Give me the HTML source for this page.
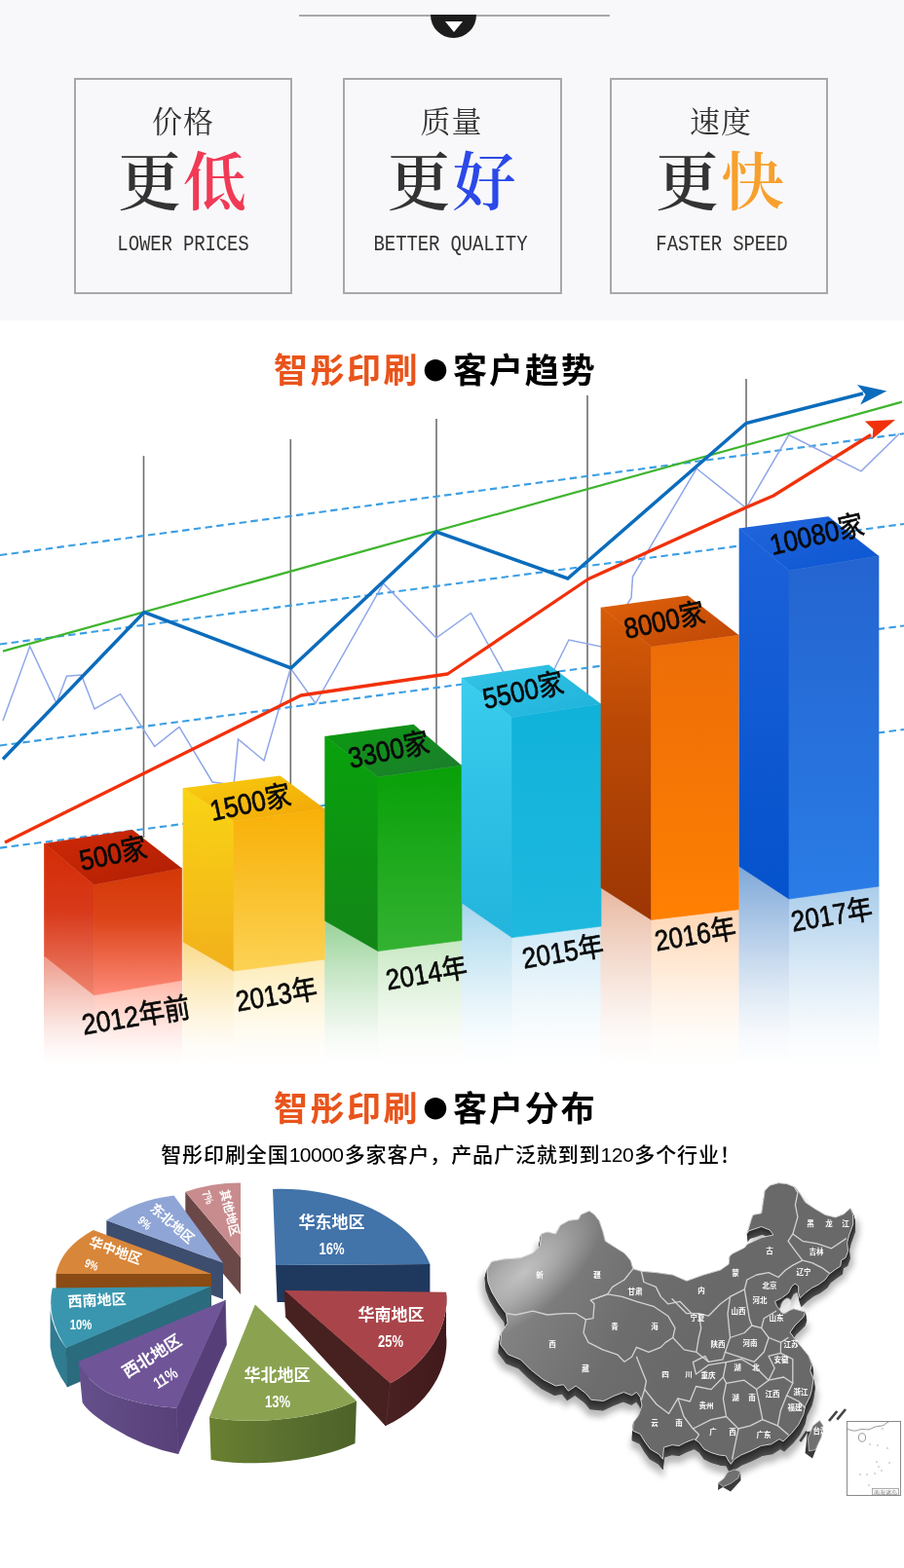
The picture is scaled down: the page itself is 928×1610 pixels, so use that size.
<!DOCTYPE html>
<html lang="zh-CN">
<head>
<meta charset="utf-8">
<title>智彤印刷 - 客户趋势与客户分布</title>
<style>
html,body{margin:0;padding:0;background:#fff;}
body{width:928px;height:1610px;overflow:hidden;position:relative;font-family:"Liberation Sans","Noto Sans CJK SC",sans-serif;}
#page{position:absolute;left:0;top:0;width:928px;height:1610px;overflow:hidden;background:#fff;}
.top{position:absolute;left:0;top:0;width:928px;height:329px;background:#f8f8fa;}
.rule{position:absolute;left:307px;top:14.5px;width:319px;height:2px;background:#a9a9a9;}
.knob{position:absolute;left:442px;top:15px;width:47px;height:24px;background:#1c1c1c;border-radius:0 0 24px 24px;}
.knob i{position:absolute;left:15px;top:7px;width:0;height:0;border-left:9px solid transparent;border-right:9px solid transparent;border-top:11px solid #fff;}
.card{position:absolute;top:80px;width:220px;height:218px;border:2px solid #a8a8a8;box-sizing:content-box;text-align:center;}
.card .s{position:absolute;left:0;right:0;top:24px;font:400 31px/40px "Liberation Serif","Noto Serif CJK SC",serif;color:#333;letter-spacing:1px;}
.card .b{position:absolute;left:0;right:0;top:64px;font:600 65px/84px "Liberation Serif","Noto Serif CJK SC",serif;color:#333;letter-spacing:2px;white-space:nowrap;}
.card .e{position:absolute;left:0;right:0;top:158px;font:400 19px/24px "Liberation Mono",monospace;color:#333;letter-spacing:-0.13px;white-space:nowrap;transform:scaleY(1.15);transform-origin:50% 80%;}
.h2{position:absolute;left:281px;width:400px;text-align:left;font:700 35px/40px "Liberation Sans","Noto Sans CJK SC",sans-serif;letter-spacing:2.5px;color:#000;white-space:nowrap;}
.h2 b{color:#e9541b;font-weight:700;}
.h2 u{text-decoration:none;letter-spacing:1.9px;}
.h2 i{font-style:normal;font-family:"Noto Sans CJK SC","Liberation Sans",sans-serif;font-size:25px;display:inline-block;width:34px;text-align:center;letter-spacing:0;position:relative;top:-3.5px;left:-1px;}
.sub{position:absolute;left:-1px;width:928px;text-align:center;font:500 21px/26px "Liberation Sans","Noto Sans CJK SC",sans-serif;letter-spacing:0.9px;color:#000;white-space:nowrap;}
.sub span{letter-spacing:-0.5px;margin-right:1.2px;}
svg{position:absolute;left:0;top:0;overflow:visible;}
svg text{font-family:"Liberation Sans","Noto Sans CJK SC",sans-serif;}
</style>
</head>
<body>
<div id="page">
<div class="top">
  <div class="rule"></div>
  <div class="knob"><i></i></div>
  <div class="card" style="left:76px"><div class="s">价格</div><div class="b">更<span style="color:#f13a56">低</span></div><div class="e">LOWER PRICES</div></div>
  <div class="card" style="left:352px;width:221px"><div class="s" style="margin-left:-2px">质量</div><div class="b">更<span style="color:#2b49e8">好</span></div><div class="e" style="margin-left:-4px">BETTER QUALITY</div></div>
  <div class="card" style="left:626px"><div class="s" style="margin-left:4px">速度</div><div class="b" style="margin-left:4px">更<span style="color:#f7a02d">快</span></div><div class="e" style="margin-left:6px">FASTER SPEED</div></div>
</div>
<svg id="chart" width="928" height="1610" viewBox="0 0 928 1610">
<defs>
<linearGradient id="tr" x1="0" y1="0" x2="1" y2="1"><stop offset="0" stop-color="#cf2a06"/><stop offset="1" stop-color="#b01e04"/></linearGradient>
<linearGradient id="lr" x1="0" y1="0" x2="0" y2="1"><stop offset="0" stop-color="#d42b06"/><stop offset="0.45" stop-color="#d83a1a"/><stop offset="1" stop-color="#ee8470"/></linearGradient>
<linearGradient id="fr" x1="0" y1="0" x2="0" y2="1"><stop offset="0" stop-color="#d33806"/><stop offset="0.4" stop-color="#dc4418"/><stop offset="1" stop-color="#fd8a78"/></linearGradient>
<linearGradient id="rlr" x1="0" y1="981.5" x2="0" y2="1095" gradientUnits="userSpaceOnUse"><stop offset="0" stop-color="#ee9a8a"/><stop offset="0.3" stop-color="#f4c0b6"/><stop offset="0.6" stop-color="#fae3de"/><stop offset="0.82" stop-color="#fef7f6"/><stop offset="1" stop-color="#ffffff"/></linearGradient>
<linearGradient id="rfr" x1="0" y1="1006.5" x2="0" y2="1095" gradientUnits="userSpaceOnUse"><stop offset="0" stop-color="#ffb8a8"/><stop offset="0.3" stop-color="#ffd3c9"/><stop offset="0.6" stop-color="#ffebe7"/><stop offset="0.82" stop-color="#fff9f8"/><stop offset="1" stop-color="#ffffff"/></linearGradient>
<linearGradient id="ty" x1="0" y1="0" x2="1" y2="1"><stop offset="0" stop-color="#f8cf10"/><stop offset="1" stop-color="#f2a406"/></linearGradient>
<linearGradient id="ly" x1="0" y1="0" x2="0" y2="1"><stop offset="0" stop-color="#f9d414"/><stop offset="1" stop-color="#f2b01c"/></linearGradient>
<linearGradient id="fy" x1="0" y1="0" x2="0" y2="1"><stop offset="0" stop-color="#f8b006"/><stop offset="1" stop-color="#fcd254"/></linearGradient>
<linearGradient id="rly" x1="0" y1="967" x2="0" y2="1095" gradientUnits="userSpaceOnUse"><stop offset="0" stop-color="#fadb8c"/><stop offset="0.3" stop-color="#fce9b8"/><stop offset="0.6" stop-color="#fef5df"/><stop offset="0.82" stop-color="#fffcf6"/><stop offset="1" stop-color="#ffffff"/></linearGradient>
<linearGradient id="rfy" x1="0" y1="985" x2="0" y2="1095" gradientUnits="userSpaceOnUse"><stop offset="0" stop-color="#fdecb8"/><stop offset="0.3" stop-color="#fef3d3"/><stop offset="0.6" stop-color="#fefaeb"/><stop offset="0.82" stop-color="#fffdf9"/><stop offset="1" stop-color="#ffffff"/></linearGradient>
<linearGradient id="tg" x1="0" y1="0" x2="1" y2="1"><stop offset="0" stop-color="#0a9c0e"/><stop offset="1" stop-color="#1d7a30"/></linearGradient>
<linearGradient id="lg" x1="0" y1="0" x2="0" y2="1"><stop offset="0" stop-color="#08a20c"/><stop offset="1" stop-color="#138518"/></linearGradient>
<linearGradient id="fg" x1="0" y1="0" x2="0" y2="1"><stop offset="0" stop-color="#08a008"/><stop offset="1" stop-color="#34b232"/></linearGradient>
<linearGradient id="rlg" x1="0" y1="945.4" x2="0" y2="1095" gradientUnits="userSpaceOnUse"><stop offset="0" stop-color="#98d298"/><stop offset="0.3" stop-color="#bfe3bf"/><stop offset="0.6" stop-color="#e2f2e2"/><stop offset="0.82" stop-color="#f7fbf7"/><stop offset="1" stop-color="#ffffff"/></linearGradient>
<linearGradient id="rfg" x1="0" y1="965.5" x2="0" y2="1095" gradientUnits="userSpaceOnUse"><stop offset="0" stop-color="#c8e8c4"/><stop offset="0.3" stop-color="#ddf1da"/><stop offset="0.6" stop-color="#f0f9ee"/><stop offset="0.82" stop-color="#fbfdfa"/><stop offset="1" stop-color="#ffffff"/></linearGradient>
<linearGradient id="tc" x1="0" y1="0" x2="1" y2="1"><stop offset="0" stop-color="#34c4e6"/><stop offset="1" stop-color="#1fb2da"/></linearGradient>
<linearGradient id="lc" x1="0" y1="0" x2="0" y2="1"><stop offset="0" stop-color="#3acdee"/><stop offset="1" stop-color="#22b4dc"/></linearGradient>
<linearGradient id="fc" x1="0" y1="0" x2="0" y2="1"><stop offset="0" stop-color="#10b2da"/><stop offset="1" stop-color="#1fb8de"/></linearGradient>
<linearGradient id="rlc" x1="0" y1="927" x2="0" y2="1095" gradientUnits="userSpaceOnUse"><stop offset="0" stop-color="#a6d6ee"/><stop offset="0.3" stop-color="#c8e6f4"/><stop offset="0.6" stop-color="#e6f4fa"/><stop offset="0.82" stop-color="#f8fcfe"/><stop offset="1" stop-color="#ffffff"/></linearGradient>
<linearGradient id="rfc" x1="0" y1="951" x2="0" y2="1095" gradientUnits="userSpaceOnUse"><stop offset="0" stop-color="#cfe9f6"/><stop offset="0.3" stop-color="#e1f1f9"/><stop offset="0.6" stop-color="#f2f9fc"/><stop offset="0.82" stop-color="#fbfdfe"/><stop offset="1" stop-color="#ffffff"/></linearGradient>
<linearGradient id="to" x1="0" y1="0" x2="1" y2="1"><stop offset="0" stop-color="#e0620a"/><stop offset="1" stop-color="#bd4606"/></linearGradient>
<linearGradient id="lo" x1="0" y1="0" x2="0" y2="1"><stop offset="0" stop-color="#d85c08"/><stop offset="0.35" stop-color="#bc4a06"/><stop offset="1" stop-color="#9c3604"/></linearGradient>
<linearGradient id="fo" x1="0" y1="0" x2="0" y2="1"><stop offset="0" stop-color="#ec6c08"/><stop offset="1" stop-color="#ff8002"/></linearGradient>
<linearGradient id="rlo" x1="0" y1="911.5" x2="0" y2="1095" gradientUnits="userSpaceOnUse"><stop offset="0" stop-color="#e8b8a0"/><stop offset="0.3" stop-color="#f1d3c4"/><stop offset="0.6" stop-color="#f9ebe4"/><stop offset="0.82" stop-color="#fdf9f7"/><stop offset="1" stop-color="#ffffff"/></linearGradient>
<linearGradient id="rfo" x1="0" y1="933.8" x2="0" y2="1095" gradientUnits="userSpaceOnUse"><stop offset="0" stop-color="#ffd6b4"/><stop offset="0.3" stop-color="#ffe6d0"/><stop offset="0.6" stop-color="#fff4ea"/><stop offset="0.82" stop-color="#fffcf9"/><stop offset="1" stop-color="#ffffff"/></linearGradient>
<linearGradient id="tb" x1="0" y1="0" x2="1" y2="1"><stop offset="0" stop-color="#2466dc"/><stop offset="1" stop-color="#0a56d2"/></linearGradient>
<linearGradient id="lb" x1="0" y1="0" x2="0" y2="1"><stop offset="0" stop-color="#1c62da"/><stop offset="1" stop-color="#0452cc"/></linearGradient>
<linearGradient id="fb" x1="0" y1="0" x2="0" y2="1"><stop offset="0" stop-color="#2464d0"/><stop offset="1" stop-color="#2a7ce6"/></linearGradient>
<linearGradient id="rlb" x1="0" y1="889.6" x2="0" y2="1095" gradientUnits="userSpaceOnUse"><stop offset="0" stop-color="#7ea8d8"/><stop offset="0.3" stop-color="#afc9e7"/><stop offset="0.6" stop-color="#dbe7f4"/><stop offset="0.82" stop-color="#f5f8fc"/><stop offset="1" stop-color="#ffffff"/></linearGradient>
<linearGradient id="rfb" x1="0" y1="910" x2="0" y2="1095" gradientUnits="userSpaceOnUse"><stop offset="0" stop-color="#aacdea"/><stop offset="0.3" stop-color="#cae0f2"/><stop offset="0.6" stop-color="#e7f1f9"/><stop offset="0.82" stop-color="#f8fbfd"/><stop offset="1" stop-color="#ffffff"/></linearGradient>
</defs>
<g stroke="#6e6e6e" stroke-width="1.6" fill="none">
<line x1="147.5" y1="468" x2="147.5" y2="860"/>
<line x1="298.3" y1="451" x2="298.3" y2="810"/>
<line x1="448" y1="430" x2="448" y2="770"/>
<line x1="603" y1="406" x2="603" y2="715"/>
<line x1="766" y1="389" x2="766" y2="545"/>
</g>
<g stroke="#3b9ee3" stroke-width="2.1" stroke-dasharray="7.4 4.4" fill="none">
<line x1="0" y1="570" x2="928" y2="445.2"/>
<line x1="0" y1="661.5" x2="928" y2="538"/>
<line x1="0" y1="765.5" x2="928" y2="642.5"/>
<line x1="0" y1="870.6" x2="928" y2="749"/>
</g>
<polyline fill="none" stroke="#8fa6e8" stroke-width="1.5" stroke-linejoin="miter" points="3,740 30.7,663.6 58,722 68.5,694.3 83.5,693 97,728 123.6,712.7 158.7,766.5 184,746.4 218,803 240,806 244.5,759 271,781 298.3,686.3 324,722.2 393.6,599 447.8,655 483.4,629.5 525,705 545,730 569.5,686 584,657 617,664 648,614 649.5,592 715,481 766,521.7 809.7,446.5 884,483.8 923.5,445"/>
<line x1="3" y1="668.6" x2="926" y2="412.6" stroke="#3fb52f" stroke-width="2.2"/>
<polyline fill="none" stroke="#0b6cbc" stroke-width="3.5" stroke-linejoin="miter" points="3,779.5 148,628.5 298.7,686 448,546 582.8,594 766,434.5 886,404"/>
<polygon fill="#0b6cbc" points="880,395 910.3,401.6 883.2,415.4 888.5,405"/>
<polyline fill="none" stroke="#f1310b" stroke-width="3.3" stroke-linejoin="round" points="5,865 309,714 459.5,692 604,594.5 766,521 794,509 894,446.5"/>
<polygon fill="#f1310b" points="887.8,432.4 919,431 895.6,450.8 896.3,440.5"/>
<polygon fill="url(#rlr)" points="45.0,980.5 97.0,1020.8 97.0,1095 45.0,1095"/>
<polygon fill="url(#rfr)" points="96.5,1020.8 187.2,1005.5 187.2,1095 96.5,1095"/>
<polygon fill="url(#rly)" points="187.5,966 240.5,996 240.5,1095 187.5,1095"/>
<polygon fill="url(#rfy)" points="240,996 333.8,984 333.8,1095 240,1095"/>
<polygon fill="url(#rlg)" points="333.2,944.4 388.5,975.5 388.5,1095 333.2,1095"/>
<polygon fill="url(#rfg)" points="388,975.5 474.5,964.5 474.5,1095 388,1095"/>
<polygon fill="url(#rlc)" points="473.5,926 526.0,961.6 526.0,1095 473.5,1095"/>
<polygon fill="url(#rfc)" points="525.5,961.6 617.5,950 617.5,1095 525.5,1095"/>
<polygon fill="url(#rlo)" points="616.5,910.5 669.1,943.4 669.1,1095 616.5,1095"/>
<polygon fill="url(#rfo)" points="668.6,943.4 758.8,932.8 758.8,1095 668.6,1095"/>
<polygon fill="url(#rlb)" points="758.5,888.6 810.5,922 810.5,1095 758.5,1095"/>
<polygon fill="url(#rfb)" points="810,922 902.5,909 902.5,1095 810,1095"/>
<polygon fill="url(#lr)" stroke="url(#lr)" stroke-width=".7" points="45.5,866 96.5,908.5 96.5,1021.8 45.5,981.5"/>
<polygon fill="url(#fr)" stroke="url(#fr)" stroke-width=".7" points="96.5,908.5 186.7,891.5 186.7,1006.5 96.5,1021.8"/>
<polygon fill="url(#tr)" points="45.5,866 136,852 186.7,891.5 96.5,908.5"/>
<polygon fill="url(#ly)" stroke="url(#ly)" stroke-width=".7" points="188,809.3 240,843 240,997 188,967"/>
<polygon fill="url(#fy)" stroke="url(#fy)" stroke-width=".7" points="240,843 333.3,830.6 333.3,985 240,997"/>
<polygon fill="url(#ty)" points="188,809.3 287.5,796.5 333.3,830.6 240,843"/>
<polygon fill="url(#lg)" stroke="url(#lg)" stroke-width=".7" points="333.7,756 388,797.7 388,976.5 333.7,945.4"/>
<polygon fill="url(#fg)" stroke="url(#fg)" stroke-width=".7" points="388,797.7 474,786 474,965.5 388,976.5"/>
<polygon fill="url(#tg)" points="333.7,756 424.6,743.8 474,786 388,797.7"/>
<polygon fill="url(#lc)" stroke="url(#lc)" stroke-width=".7" points="474,696 525.5,736.5 525.5,962.6 474,927"/>
<polygon fill="url(#fc)" stroke="url(#fc)" stroke-width=".7" points="525.5,736.5 617,722.8 617,951 525.5,962.6"/>
<polygon fill="url(#tc)" points="474,696 563.4,682.4 617,722.8 525.5,736.5"/>
<polygon fill="url(#lo)" stroke="url(#lo)" stroke-width=".7" points="617,623.8 668.6,664 668.6,944.4 617,911.5"/>
<polygon fill="url(#fo)" stroke="url(#fo)" stroke-width=".7" points="668.6,664 758.3,652 758.3,933.8 668.6,944.4"/>
<polygon fill="url(#to)" points="617,623.8 706,611.4 758.3,652 668.6,664"/>
<polygon fill="url(#lb)" stroke="url(#lb)" stroke-width=".7" points="759,542.4 810,586 810,923 759,889.6"/>
<polygon fill="url(#fb)" stroke="url(#fb)" stroke-width=".7" points="810,586 902,570.8 902,910 810,923"/>
<polygon fill="url(#tb)" points="759,542.4 850.4,530.3 902,570.8 810,586"/>
<g fill="#0a0a0a" stroke="#0a0a0a" stroke-width="0.7" font-size="29.5">
<text transform="translate(84,894) rotate(-12)" textLength="70" lengthAdjust="spacingAndGlyphs">500家</text>
<text transform="translate(86,1062.5) rotate(-9.5)" textLength="112" lengthAdjust="spacingAndGlyphs">2012年前</text>
<text transform="translate(218,843) rotate(-12)" textLength="84" lengthAdjust="spacingAndGlyphs">1500家</text>
<text transform="translate(244,1038.5) rotate(-9.5)" textLength="84" lengthAdjust="spacingAndGlyphs">2013年</text>
<text transform="translate(360,789) rotate(-12)" textLength="84" lengthAdjust="spacingAndGlyphs">3300家</text>
<text transform="translate(398,1016.5) rotate(-9.5)" textLength="84" lengthAdjust="spacingAndGlyphs">2014年</text>
<text transform="translate(498,728) rotate(-12)" textLength="84" lengthAdjust="spacingAndGlyphs">5500家</text>
<text transform="translate(538,994.5) rotate(-9.5)" textLength="84" lengthAdjust="spacingAndGlyphs">2015年</text>
<text transform="translate(643,656) rotate(-12)" textLength="84" lengthAdjust="spacingAndGlyphs">8000家</text>
<text transform="translate(674,976.5) rotate(-9.5)" textLength="84" lengthAdjust="spacingAndGlyphs">2016年</text>
<text transform="translate(793,570) rotate(-13)" textLength="98" lengthAdjust="spacingAndGlyphs">10080家</text>
<text transform="translate(814,956.5) rotate(-9.5)" textLength="84" lengthAdjust="spacingAndGlyphs">2017年</text>
</g>
</svg>
<div class="h2" style="top:361px"><b>智彤印刷</b><i>●</i><u>客户趋势</u></div>
<div class="h2" style="top:1119px"><b>智彤印刷</b><i>●</i><u>客户分布</u></div>
<div class="sub" style="top:1173px">智彤印刷全国<span>10000</span>多家客户，产品广泛就到到<span>120</span>多个行业！</div>
<svg id="pie" width="928" height="1610" viewBox="0 0 928 1610">
<defs>
<linearGradient id="pgS" x1="0" y1="0" x2="1" y2="0"><stop offset="0" stop-color="#6a8030"/><stop offset=".5" stop-color="#5a7030"/><stop offset="1" stop-color="#4c6228"/></linearGradient>
<linearGradient id="ppS" x1="0" y1="0" x2="1" y2="0"><stop offset="0" stop-color="#65508c"/><stop offset="1" stop-color="#584078"/></linearGradient>
<linearGradient id="prS" x1="0" y1="0" x2="1" y2="0"><stop offset="0" stop-color="#4a2122"/><stop offset="1" stop-color="#40191b"/></linearGradient>
</defs>
<!-- pink: other -->
<polygon fill="#6b4848" points="190.3,1223.8 247,1291 247,1329 190.3,1262"/>
<path fill="#c98c8e" d="M247,1291 L190.3,1223.8 Q218,1214.5 247,1214.6 Z"/>
<!-- blue-grey: north-east -->
<polygon fill="#3d4d6e" points="109.3,1253 229,1296.7 229,1334 109.3,1290"/>
<path fill="#8fa5d6" d="M229,1296.7 L109.3,1253 Q140,1232 178.5,1227.5 Z"/>
<!-- blue: east -->
<polygon fill="#1f395e" points="283,1299 441.4,1298 441.4,1337 284.5,1337"/>
<path fill="#4273a9" d="M283,1299 L280,1221 C340,1218 420,1244 441.4,1298 Z"/>
<!-- orange: central -->
<polygon fill="#8a4b14" points="57.5,1308 217,1308 217,1345 57.5,1345"/>
<path fill="#d8863a" d="M217,1308 L57.5,1308 Q63,1281 95.8,1263 Z"/>
<!-- teal: south-west -->
<path fill="#2f7b90" d="M51.6,1345 L51.6,1383 Q54,1403 69,1424 L67.8,1384 Q54,1366 51.6,1345 Z"/>
<polygon fill="#2a6b7e" stroke="#2a6b7e" stroke-width=".8" points="67.8,1384 216.3,1321 216.3,1361 69,1424"/>
<path fill="#3a96ae" d="M216.3,1321 L53.8,1322.4 Q47,1352 67.8,1384 Z"/>
<!-- red: south -->
<path fill="url(#prS)" d="M458,1326.7 C462,1360 440,1400 400.7,1420.3 L396,1464 C440,1444 462,1404 458,1370 Z"/>
<polygon fill="#472020" stroke="#472020" stroke-width=".8" points="292,1325 400.7,1420.3 396,1464 293.5,1352.4"/>
<path fill="#a9454a" d="M292,1325 L458,1326.7 C462,1360 440,1400 400.7,1420.3 Z"/>
<!-- purple: north-west -->
<path fill="url(#ppS)" d="M80.4,1398 Q90,1420 114,1431.7 Q147.7,1444 181.3,1445.7 L182.7,1493 Q147.7,1486 114,1465 Q90,1450 84.6,1440 Z"/>
<polygon fill="#563f78" stroke="#563f78" stroke-width=".8" points="181.3,1445.7 231.2,1335 232.3,1381 182.7,1493"/>
<path fill="#6f5597" d="M231.2,1335 L80.4,1398 Q90,1420 114,1431.7 Q147.7,1444 181.3,1445.7 Z"/>
<!-- green: north -->
<path fill="url(#pgS)" d="M215,1455 C250,1463 320,1459 366,1438.4 L364.5,1482 C320,1503 250,1506 216.6,1498.7 Z"/>
<path fill="#8ba351" d="M261.9,1339.4 L215,1455 C250,1463 320,1459 366,1438.4 Z"/>
<g fill="#fff" font-weight="700" text-anchor="middle" font-size="17">
<text x="340.5" y="1260.5">华东地区</text><text x="340.5" y="1287.5" font-size="16.7" textLength="26" lengthAdjust="spacingAndGlyphs">16%</text>
<text x="401.5" y="1355.5">华南地区</text><text x="401" y="1382.5" font-size="16.7" textLength="26" lengthAdjust="spacingAndGlyphs">25%</text>
<text x="284.5" y="1417.5">华北地区</text><text x="285" y="1444.5" font-size="16.7" textLength="26" lengthAdjust="spacingAndGlyphs">13%</text>
<g transform="translate(156,1392.5) rotate(-32)"><text x="0" y="6" font-size="17">西北地区</text></g>
<g transform="translate(170,1415) rotate(-32)"><text x="0" y="5.5" font-size="16.7" textLength="26" lengthAdjust="spacingAndGlyphs">11%</text></g>
<g transform="translate(99.5,1335) rotate(-3)"><text x="0" y="5.5" font-size="15">西南地区</text></g>
<text x="83" y="1365" font-size="14.6" textLength="22.5" lengthAdjust="spacingAndGlyphs">10%</text>
<g transform="translate(118.5,1284) rotate(20)"><text x="0" y="5" font-size="14">华中地区</text></g>
<g transform="translate(94,1298.5) rotate(20)"><text x="0" y="4.3" font-size="12.4" textLength="14" lengthAdjust="spacingAndGlyphs">9%</text></g>
<g transform="translate(177,1256) rotate(41)"><text x="0" y="5" font-size="13.6">东北地区</text></g>
<g transform="translate(148.5,1255.5) rotate(41)"><text x="0" y="4.3" font-size="12.4" textLength="14" lengthAdjust="spacingAndGlyphs">9%</text></g>
<g transform="translate(236,1245) rotate(76)"><text x="0" y="4.5" font-size="12.2">其他地区</text></g>
<g transform="translate(213.5,1229.5) rotate(66)"><text x="0" y="4.2" font-size="11.9" textLength="13.5" lengthAdjust="spacingAndGlyphs">7%</text></g>
</g>
</svg>
<svg id="map" width="928" height="1610" viewBox="0 0 928 1610">
<defs>
<linearGradient id="mg" x1="500" y1="1300" x2="700" y2="1400" gradientUnits="userSpaceOnUse">
<stop offset="0" stop-color="#8c8c8c"/><stop offset=".35" stop-color="#7c7c7c"/><stop offset=".7" stop-color="#6d6d6d"/><stop offset="1" stop-color="#696969"/>
</linearGradient>
<radialGradient id="mh" cx="0" cy="0" r="1" gradientUnits="userSpaceOnUse" gradientTransform="translate(538,1307) rotate(-41) scale(100,42)">
<stop offset="0" stop-color="#fff" stop-opacity=".5"/><stop offset=".45" stop-color="#fff" stop-opacity=".3"/><stop offset="1" stop-color="#fff" stop-opacity="0"/>
</radialGradient>
<filter id="mb" x="-10%" y="-10%" width="120%" height="125%"><feGaussianBlur stdDeviation="3"/></filter>
<filter id="mb1" x="-10%" y="-10%" width="120%" height="120%"><feGaussianBlur stdDeviation="0.5"/></filter>
<clipPath id="mc"><polygon points="499.8,1304.0 504.8,1295.4 517.0,1293.0 534.5,1291.7 547.0,1286.7 554.3,1279.3 555.6,1267.0 561.8,1265.0 570.5,1267.0 575.4,1258.0 584.0,1253.3 594.0,1252.0 596.5,1247.0 605.0,1243.4 610.0,1247.0 615.0,1253.3 618.8,1264.4 621.3,1274.3 631.0,1280.5 641.0,1286.7 647.3,1294.2 649.8,1302.8 658.4,1305.3 673.3,1306.6 690.7,1309.0 704.9,1315.2 722.2,1309.0 739.6,1304.0 748.2,1297.9 749.0,1289.7 752.4,1287.0 764.5,1281.0 767.0,1277.6 781.7,1270.7 793.8,1268.0 790.3,1263.0 781.7,1259.5 768.8,1263.8 767.0,1266.4 771.4,1251.7 773.0,1247.4 781.7,1245.7 783.4,1234.5 785.2,1222.4 790.3,1217.2 799.0,1214.7 807.6,1215.5 816.2,1219.0 821.4,1225.9 826.6,1234.5 836.9,1241.4 847.2,1247.4 857.6,1250.0 866.2,1246.6 873.0,1240.5 875.7,1246.6 875.7,1257.0 871.4,1269.0 869.7,1275.9 870.5,1284.5 868.0,1291.4 863.6,1294.0 862.8,1300.0 857.6,1303.4 850.7,1308.6 847.2,1313.8 840.3,1319.0 833.4,1322.4 826.6,1327.6 821.4,1332.8 819.7,1327.6 819.7,1320.7 816.2,1318.0 812.8,1320.7 809.3,1327.6 802.4,1332.8 795.5,1336.2 797.5,1341.5 801.5,1346.2 808.0,1346.5 814.5,1343.8 826.6,1347.0 824.8,1352.4 816.0,1361.0 811.0,1368.0 816.0,1375.0 823.0,1383.4 830.0,1392.0 833.4,1400.7 831.7,1407.6 835.0,1416.0 833.4,1426.6 831.7,1433.4 826.6,1443.8 824.8,1452.4 819.7,1462.8 812.8,1471.4 804.0,1480.0 800.0,1477.6 791.7,1482.8 781.4,1484.5 771.0,1489.7 760.7,1494.0 753.8,1498.3 750.3,1503.4 747.8,1500.0 745.2,1494.8 738.3,1494.0 729.7,1491.4 722.8,1488.0 717.6,1481.0 712.4,1477.6 703.8,1481.0 697.0,1484.5 690.0,1483.6 681.4,1486.2 680.5,1498.3 676.2,1493.0 667.6,1488.0 662.4,1481.0 657.2,1472.4 649.5,1469.0 650.3,1460.3 655.5,1453.4 659.0,1443.0 657.2,1434.5 653.5,1429.5 648.6,1432.8 640.3,1429.5 630.0,1433.4 619.6,1438.5 606.7,1437.2 601.5,1430.8 591.2,1423.0 583.4,1428.2 578.3,1421.7 570.5,1423.0 557.6,1416.5 544.6,1406.2 534.3,1395.9 521.4,1390.7 513.6,1380.3 514.7,1368.5 521.0,1358.6 519.6,1348.7 512.2,1338.8 504.8,1326.4 501.0,1316.5"/></clipPath>
</defs>
<polygon points="499.8,1304.0 504.8,1295.4 517.0,1293.0 534.5,1291.7 547.0,1286.7 554.3,1279.3 555.6,1267.0 561.8,1265.0 570.5,1267.0 575.4,1258.0 584.0,1253.3 594.0,1252.0 596.5,1247.0 605.0,1243.4 610.0,1247.0 615.0,1253.3 618.8,1264.4 621.3,1274.3 631.0,1280.5 641.0,1286.7 647.3,1294.2 649.8,1302.8 658.4,1305.3 673.3,1306.6 690.7,1309.0 704.9,1315.2 722.2,1309.0 739.6,1304.0 748.2,1297.9 749.0,1289.7 752.4,1287.0 764.5,1281.0 767.0,1277.6 781.7,1270.7 793.8,1268.0 790.3,1263.0 781.7,1259.5 768.8,1263.8 767.0,1266.4 771.4,1251.7 773.0,1247.4 781.7,1245.7 783.4,1234.5 785.2,1222.4 790.3,1217.2 799.0,1214.7 807.6,1215.5 816.2,1219.0 821.4,1225.9 826.6,1234.5 836.9,1241.4 847.2,1247.4 857.6,1250.0 866.2,1246.6 873.0,1240.5 875.7,1246.6 875.7,1257.0 871.4,1269.0 869.7,1275.9 870.5,1284.5 868.0,1291.4 863.6,1294.0 862.8,1300.0 857.6,1303.4 850.7,1308.6 847.2,1313.8 840.3,1319.0 833.4,1322.4 826.6,1327.6 821.4,1332.8 819.7,1327.6 819.7,1320.7 816.2,1318.0 812.8,1320.7 809.3,1327.6 802.4,1332.8 795.5,1336.2 797.5,1341.5 801.5,1346.2 808.0,1346.5 814.5,1343.8 826.6,1347.0 824.8,1352.4 816.0,1361.0 811.0,1368.0 816.0,1375.0 823.0,1383.4 830.0,1392.0 833.4,1400.7 831.7,1407.6 835.0,1416.0 833.4,1426.6 831.7,1433.4 826.6,1443.8 824.8,1452.4 819.7,1462.8 812.8,1471.4 804.0,1480.0 800.0,1477.6 791.7,1482.8 781.4,1484.5 771.0,1489.7 760.7,1494.0 753.8,1498.3 750.3,1503.4 747.8,1500.0 745.2,1494.8 738.3,1494.0 729.7,1491.4 722.8,1488.0 717.6,1481.0 712.4,1477.6 703.8,1481.0 697.0,1484.5 690.0,1483.6 681.4,1486.2 680.5,1498.3 676.2,1493.0 667.6,1488.0 662.4,1481.0 657.2,1472.4 649.5,1469.0 650.3,1460.3 655.5,1453.4 659.0,1443.0 657.2,1434.5 653.5,1429.5 648.6,1432.8 640.3,1429.5 630.0,1433.4 619.6,1438.5 606.7,1437.2 601.5,1430.8 591.2,1423.0 583.4,1428.2 578.3,1421.7 570.5,1423.0 557.6,1416.5 544.6,1406.2 534.3,1395.9 521.4,1390.7 513.6,1380.3 514.7,1368.5 521.0,1358.6 519.6,1348.7 512.2,1338.8 504.8,1326.4 501.0,1316.5" fill="#808080" stroke="#808080" stroke-width="1" stroke-linejoin="round" transform="translate(690,1343) scale(1.03) translate(-690,-1330)" opacity=".55" filter="url(#mb)"/>
<polygon points="499.8,1304.0 504.8,1295.4 517.0,1293.0 534.5,1291.7 547.0,1286.7 554.3,1279.3 555.6,1267.0 561.8,1265.0 570.5,1267.0 575.4,1258.0 584.0,1253.3 594.0,1252.0 596.5,1247.0 605.0,1243.4 610.0,1247.0 615.0,1253.3 618.8,1264.4 621.3,1274.3 631.0,1280.5 641.0,1286.7 647.3,1294.2 649.8,1302.8 658.4,1305.3 673.3,1306.6 690.7,1309.0 704.9,1315.2 722.2,1309.0 739.6,1304.0 748.2,1297.9 749.0,1289.7 752.4,1287.0 764.5,1281.0 767.0,1277.6 781.7,1270.7 793.8,1268.0 790.3,1263.0 781.7,1259.5 768.8,1263.8 767.0,1266.4 771.4,1251.7 773.0,1247.4 781.7,1245.7 783.4,1234.5 785.2,1222.4 790.3,1217.2 799.0,1214.7 807.6,1215.5 816.2,1219.0 821.4,1225.9 826.6,1234.5 836.9,1241.4 847.2,1247.4 857.6,1250.0 866.2,1246.6 873.0,1240.5 875.7,1246.6 875.7,1257.0 871.4,1269.0 869.7,1275.9 870.5,1284.5 868.0,1291.4 863.6,1294.0 862.8,1300.0 857.6,1303.4 850.7,1308.6 847.2,1313.8 840.3,1319.0 833.4,1322.4 826.6,1327.6 821.4,1332.8 819.7,1327.6 819.7,1320.7 816.2,1318.0 812.8,1320.7 809.3,1327.6 802.4,1332.8 795.5,1336.2 797.5,1341.5 801.5,1346.2 808.0,1346.5 814.5,1343.8 826.6,1347.0 824.8,1352.4 816.0,1361.0 811.0,1368.0 816.0,1375.0 823.0,1383.4 830.0,1392.0 833.4,1400.7 831.7,1407.6 835.0,1416.0 833.4,1426.6 831.7,1433.4 826.6,1443.8 824.8,1452.4 819.7,1462.8 812.8,1471.4 804.0,1480.0 800.0,1477.6 791.7,1482.8 781.4,1484.5 771.0,1489.7 760.7,1494.0 753.8,1498.3 750.3,1503.4 747.8,1500.0 745.2,1494.8 738.3,1494.0 729.7,1491.4 722.8,1488.0 717.6,1481.0 712.4,1477.6 703.8,1481.0 697.0,1484.5 690.0,1483.6 681.4,1486.2 680.5,1498.3 676.2,1493.0 667.6,1488.0 662.4,1481.0 657.2,1472.4 649.5,1469.0 650.3,1460.3 655.5,1453.4 659.0,1443.0 657.2,1434.5 653.5,1429.5 648.6,1432.8 640.3,1429.5 630.0,1433.4 619.6,1438.5 606.7,1437.2 601.5,1430.8 591.2,1423.0 583.4,1428.2 578.3,1421.7 570.5,1423.0 557.6,1416.5 544.6,1406.2 534.3,1395.9 521.4,1390.7 513.6,1380.3 514.7,1368.5 521.0,1358.6 519.6,1348.7 512.2,1338.8 504.8,1326.4 501.0,1316.5" fill="#4a4a4a" stroke="#4a4a4a" stroke-width="1" stroke-linejoin="round" transform="translate(690,1338.5) scale(1.01) translate(-690,-1330)" />
<polygon points="499.8,1304.0 504.8,1295.4 517.0,1293.0 534.5,1291.7 547.0,1286.7 554.3,1279.3 555.6,1267.0 561.8,1265.0 570.5,1267.0 575.4,1258.0 584.0,1253.3 594.0,1252.0 596.5,1247.0 605.0,1243.4 610.0,1247.0 615.0,1253.3 618.8,1264.4 621.3,1274.3 631.0,1280.5 641.0,1286.7 647.3,1294.2 649.8,1302.8 658.4,1305.3 673.3,1306.6 690.7,1309.0 704.9,1315.2 722.2,1309.0 739.6,1304.0 748.2,1297.9 749.0,1289.7 752.4,1287.0 764.5,1281.0 767.0,1277.6 781.7,1270.7 793.8,1268.0 790.3,1263.0 781.7,1259.5 768.8,1263.8 767.0,1266.4 771.4,1251.7 773.0,1247.4 781.7,1245.7 783.4,1234.5 785.2,1222.4 790.3,1217.2 799.0,1214.7 807.6,1215.5 816.2,1219.0 821.4,1225.9 826.6,1234.5 836.9,1241.4 847.2,1247.4 857.6,1250.0 866.2,1246.6 873.0,1240.5 875.7,1246.6 875.7,1257.0 871.4,1269.0 869.7,1275.9 870.5,1284.5 868.0,1291.4 863.6,1294.0 862.8,1300.0 857.6,1303.4 850.7,1308.6 847.2,1313.8 840.3,1319.0 833.4,1322.4 826.6,1327.6 821.4,1332.8 819.7,1327.6 819.7,1320.7 816.2,1318.0 812.8,1320.7 809.3,1327.6 802.4,1332.8 795.5,1336.2 797.5,1341.5 801.5,1346.2 808.0,1346.5 814.5,1343.8 826.6,1347.0 824.8,1352.4 816.0,1361.0 811.0,1368.0 816.0,1375.0 823.0,1383.4 830.0,1392.0 833.4,1400.7 831.7,1407.6 835.0,1416.0 833.4,1426.6 831.7,1433.4 826.6,1443.8 824.8,1452.4 819.7,1462.8 812.8,1471.4 804.0,1480.0 800.0,1477.6 791.7,1482.8 781.4,1484.5 771.0,1489.7 760.7,1494.0 753.8,1498.3 750.3,1503.4 747.8,1500.0 745.2,1494.8 738.3,1494.0 729.7,1491.4 722.8,1488.0 717.6,1481.0 712.4,1477.6 703.8,1481.0 697.0,1484.5 690.0,1483.6 681.4,1486.2 680.5,1498.3 676.2,1493.0 667.6,1488.0 662.4,1481.0 657.2,1472.4 649.5,1469.0 650.3,1460.3 655.5,1453.4 659.0,1443.0 657.2,1434.5 653.5,1429.5 648.6,1432.8 640.3,1429.5 630.0,1433.4 619.6,1438.5 606.7,1437.2 601.5,1430.8 591.2,1423.0 583.4,1428.2 578.3,1421.7 570.5,1423.0 557.6,1416.5 544.6,1406.2 534.3,1395.9 521.4,1390.7 513.6,1380.3 514.7,1368.5 521.0,1358.6 519.6,1348.7 512.2,1338.8 504.8,1326.4 501.0,1316.5" fill="#444444" stroke="#444444" stroke-width="1" stroke-linejoin="round" transform="translate(690,1337.0833333333333) scale(1.0083333333333333) translate(-690,-1330)" />
<polygon points="499.8,1304.0 504.8,1295.4 517.0,1293.0 534.5,1291.7 547.0,1286.7 554.3,1279.3 555.6,1267.0 561.8,1265.0 570.5,1267.0 575.4,1258.0 584.0,1253.3 594.0,1252.0 596.5,1247.0 605.0,1243.4 610.0,1247.0 615.0,1253.3 618.8,1264.4 621.3,1274.3 631.0,1280.5 641.0,1286.7 647.3,1294.2 649.8,1302.8 658.4,1305.3 673.3,1306.6 690.7,1309.0 704.9,1315.2 722.2,1309.0 739.6,1304.0 748.2,1297.9 749.0,1289.7 752.4,1287.0 764.5,1281.0 767.0,1277.6 781.7,1270.7 793.8,1268.0 790.3,1263.0 781.7,1259.5 768.8,1263.8 767.0,1266.4 771.4,1251.7 773.0,1247.4 781.7,1245.7 783.4,1234.5 785.2,1222.4 790.3,1217.2 799.0,1214.7 807.6,1215.5 816.2,1219.0 821.4,1225.9 826.6,1234.5 836.9,1241.4 847.2,1247.4 857.6,1250.0 866.2,1246.6 873.0,1240.5 875.7,1246.6 875.7,1257.0 871.4,1269.0 869.7,1275.9 870.5,1284.5 868.0,1291.4 863.6,1294.0 862.8,1300.0 857.6,1303.4 850.7,1308.6 847.2,1313.8 840.3,1319.0 833.4,1322.4 826.6,1327.6 821.4,1332.8 819.7,1327.6 819.7,1320.7 816.2,1318.0 812.8,1320.7 809.3,1327.6 802.4,1332.8 795.5,1336.2 797.5,1341.5 801.5,1346.2 808.0,1346.5 814.5,1343.8 826.6,1347.0 824.8,1352.4 816.0,1361.0 811.0,1368.0 816.0,1375.0 823.0,1383.4 830.0,1392.0 833.4,1400.7 831.7,1407.6 835.0,1416.0 833.4,1426.6 831.7,1433.4 826.6,1443.8 824.8,1452.4 819.7,1462.8 812.8,1471.4 804.0,1480.0 800.0,1477.6 791.7,1482.8 781.4,1484.5 771.0,1489.7 760.7,1494.0 753.8,1498.3 750.3,1503.4 747.8,1500.0 745.2,1494.8 738.3,1494.0 729.7,1491.4 722.8,1488.0 717.6,1481.0 712.4,1477.6 703.8,1481.0 697.0,1484.5 690.0,1483.6 681.4,1486.2 680.5,1498.3 676.2,1493.0 667.6,1488.0 662.4,1481.0 657.2,1472.4 649.5,1469.0 650.3,1460.3 655.5,1453.4 659.0,1443.0 657.2,1434.5 653.5,1429.5 648.6,1432.8 640.3,1429.5 630.0,1433.4 619.6,1438.5 606.7,1437.2 601.5,1430.8 591.2,1423.0 583.4,1428.2 578.3,1421.7 570.5,1423.0 557.6,1416.5 544.6,1406.2 534.3,1395.9 521.4,1390.7 513.6,1380.3 514.7,1368.5 521.0,1358.6 519.6,1348.7 512.2,1338.8 504.8,1326.4 501.0,1316.5" fill="#3e3e3e" stroke="#3e3e3e" stroke-width="1" stroke-linejoin="round" transform="translate(690,1335.6666666666667) scale(1.0066666666666666) translate(-690,-1330)" />
<polygon points="499.8,1304.0 504.8,1295.4 517.0,1293.0 534.5,1291.7 547.0,1286.7 554.3,1279.3 555.6,1267.0 561.8,1265.0 570.5,1267.0 575.4,1258.0 584.0,1253.3 594.0,1252.0 596.5,1247.0 605.0,1243.4 610.0,1247.0 615.0,1253.3 618.8,1264.4 621.3,1274.3 631.0,1280.5 641.0,1286.7 647.3,1294.2 649.8,1302.8 658.4,1305.3 673.3,1306.6 690.7,1309.0 704.9,1315.2 722.2,1309.0 739.6,1304.0 748.2,1297.9 749.0,1289.7 752.4,1287.0 764.5,1281.0 767.0,1277.6 781.7,1270.7 793.8,1268.0 790.3,1263.0 781.7,1259.5 768.8,1263.8 767.0,1266.4 771.4,1251.7 773.0,1247.4 781.7,1245.7 783.4,1234.5 785.2,1222.4 790.3,1217.2 799.0,1214.7 807.6,1215.5 816.2,1219.0 821.4,1225.9 826.6,1234.5 836.9,1241.4 847.2,1247.4 857.6,1250.0 866.2,1246.6 873.0,1240.5 875.7,1246.6 875.7,1257.0 871.4,1269.0 869.7,1275.9 870.5,1284.5 868.0,1291.4 863.6,1294.0 862.8,1300.0 857.6,1303.4 850.7,1308.6 847.2,1313.8 840.3,1319.0 833.4,1322.4 826.6,1327.6 821.4,1332.8 819.7,1327.6 819.7,1320.7 816.2,1318.0 812.8,1320.7 809.3,1327.6 802.4,1332.8 795.5,1336.2 797.5,1341.5 801.5,1346.2 808.0,1346.5 814.5,1343.8 826.6,1347.0 824.8,1352.4 816.0,1361.0 811.0,1368.0 816.0,1375.0 823.0,1383.4 830.0,1392.0 833.4,1400.7 831.7,1407.6 835.0,1416.0 833.4,1426.6 831.7,1433.4 826.6,1443.8 824.8,1452.4 819.7,1462.8 812.8,1471.4 804.0,1480.0 800.0,1477.6 791.7,1482.8 781.4,1484.5 771.0,1489.7 760.7,1494.0 753.8,1498.3 750.3,1503.4 747.8,1500.0 745.2,1494.8 738.3,1494.0 729.7,1491.4 722.8,1488.0 717.6,1481.0 712.4,1477.6 703.8,1481.0 697.0,1484.5 690.0,1483.6 681.4,1486.2 680.5,1498.3 676.2,1493.0 667.6,1488.0 662.4,1481.0 657.2,1472.4 649.5,1469.0 650.3,1460.3 655.5,1453.4 659.0,1443.0 657.2,1434.5 653.5,1429.5 648.6,1432.8 640.3,1429.5 630.0,1433.4 619.6,1438.5 606.7,1437.2 601.5,1430.8 591.2,1423.0 583.4,1428.2 578.3,1421.7 570.5,1423.0 557.6,1416.5 544.6,1406.2 534.3,1395.9 521.4,1390.7 513.6,1380.3 514.7,1368.5 521.0,1358.6 519.6,1348.7 512.2,1338.8 504.8,1326.4 501.0,1316.5" fill="#383838" stroke="#383838" stroke-width="1" stroke-linejoin="round" transform="translate(690,1334.25) scale(1.005) translate(-690,-1330)" />
<polygon points="499.8,1304.0 504.8,1295.4 517.0,1293.0 534.5,1291.7 547.0,1286.7 554.3,1279.3 555.6,1267.0 561.8,1265.0 570.5,1267.0 575.4,1258.0 584.0,1253.3 594.0,1252.0 596.5,1247.0 605.0,1243.4 610.0,1247.0 615.0,1253.3 618.8,1264.4 621.3,1274.3 631.0,1280.5 641.0,1286.7 647.3,1294.2 649.8,1302.8 658.4,1305.3 673.3,1306.6 690.7,1309.0 704.9,1315.2 722.2,1309.0 739.6,1304.0 748.2,1297.9 749.0,1289.7 752.4,1287.0 764.5,1281.0 767.0,1277.6 781.7,1270.7 793.8,1268.0 790.3,1263.0 781.7,1259.5 768.8,1263.8 767.0,1266.4 771.4,1251.7 773.0,1247.4 781.7,1245.7 783.4,1234.5 785.2,1222.4 790.3,1217.2 799.0,1214.7 807.6,1215.5 816.2,1219.0 821.4,1225.9 826.6,1234.5 836.9,1241.4 847.2,1247.4 857.6,1250.0 866.2,1246.6 873.0,1240.5 875.7,1246.6 875.7,1257.0 871.4,1269.0 869.7,1275.9 870.5,1284.5 868.0,1291.4 863.6,1294.0 862.8,1300.0 857.6,1303.4 850.7,1308.6 847.2,1313.8 840.3,1319.0 833.4,1322.4 826.6,1327.6 821.4,1332.8 819.7,1327.6 819.7,1320.7 816.2,1318.0 812.8,1320.7 809.3,1327.6 802.4,1332.8 795.5,1336.2 797.5,1341.5 801.5,1346.2 808.0,1346.5 814.5,1343.8 826.6,1347.0 824.8,1352.4 816.0,1361.0 811.0,1368.0 816.0,1375.0 823.0,1383.4 830.0,1392.0 833.4,1400.7 831.7,1407.6 835.0,1416.0 833.4,1426.6 831.7,1433.4 826.6,1443.8 824.8,1452.4 819.7,1462.8 812.8,1471.4 804.0,1480.0 800.0,1477.6 791.7,1482.8 781.4,1484.5 771.0,1489.7 760.7,1494.0 753.8,1498.3 750.3,1503.4 747.8,1500.0 745.2,1494.8 738.3,1494.0 729.7,1491.4 722.8,1488.0 717.6,1481.0 712.4,1477.6 703.8,1481.0 697.0,1484.5 690.0,1483.6 681.4,1486.2 680.5,1498.3 676.2,1493.0 667.6,1488.0 662.4,1481.0 657.2,1472.4 649.5,1469.0 650.3,1460.3 655.5,1453.4 659.0,1443.0 657.2,1434.5 653.5,1429.5 648.6,1432.8 640.3,1429.5 630.0,1433.4 619.6,1438.5 606.7,1437.2 601.5,1430.8 591.2,1423.0 583.4,1428.2 578.3,1421.7 570.5,1423.0 557.6,1416.5 544.6,1406.2 534.3,1395.9 521.4,1390.7 513.6,1380.3 514.7,1368.5 521.0,1358.6 519.6,1348.7 512.2,1338.8 504.8,1326.4 501.0,1316.5" fill="#323232" stroke="#323232" stroke-width="1" stroke-linejoin="round" transform="translate(690,1332.8333333333333) scale(1.0033333333333334) translate(-690,-1330)" />
<polygon points="499.8,1304.0 504.8,1295.4 517.0,1293.0 534.5,1291.7 547.0,1286.7 554.3,1279.3 555.6,1267.0 561.8,1265.0 570.5,1267.0 575.4,1258.0 584.0,1253.3 594.0,1252.0 596.5,1247.0 605.0,1243.4 610.0,1247.0 615.0,1253.3 618.8,1264.4 621.3,1274.3 631.0,1280.5 641.0,1286.7 647.3,1294.2 649.8,1302.8 658.4,1305.3 673.3,1306.6 690.7,1309.0 704.9,1315.2 722.2,1309.0 739.6,1304.0 748.2,1297.9 749.0,1289.7 752.4,1287.0 764.5,1281.0 767.0,1277.6 781.7,1270.7 793.8,1268.0 790.3,1263.0 781.7,1259.5 768.8,1263.8 767.0,1266.4 771.4,1251.7 773.0,1247.4 781.7,1245.7 783.4,1234.5 785.2,1222.4 790.3,1217.2 799.0,1214.7 807.6,1215.5 816.2,1219.0 821.4,1225.9 826.6,1234.5 836.9,1241.4 847.2,1247.4 857.6,1250.0 866.2,1246.6 873.0,1240.5 875.7,1246.6 875.7,1257.0 871.4,1269.0 869.7,1275.9 870.5,1284.5 868.0,1291.4 863.6,1294.0 862.8,1300.0 857.6,1303.4 850.7,1308.6 847.2,1313.8 840.3,1319.0 833.4,1322.4 826.6,1327.6 821.4,1332.8 819.7,1327.6 819.7,1320.7 816.2,1318.0 812.8,1320.7 809.3,1327.6 802.4,1332.8 795.5,1336.2 797.5,1341.5 801.5,1346.2 808.0,1346.5 814.5,1343.8 826.6,1347.0 824.8,1352.4 816.0,1361.0 811.0,1368.0 816.0,1375.0 823.0,1383.4 830.0,1392.0 833.4,1400.7 831.7,1407.6 835.0,1416.0 833.4,1426.6 831.7,1433.4 826.6,1443.8 824.8,1452.4 819.7,1462.8 812.8,1471.4 804.0,1480.0 800.0,1477.6 791.7,1482.8 781.4,1484.5 771.0,1489.7 760.7,1494.0 753.8,1498.3 750.3,1503.4 747.8,1500.0 745.2,1494.8 738.3,1494.0 729.7,1491.4 722.8,1488.0 717.6,1481.0 712.4,1477.6 703.8,1481.0 697.0,1484.5 690.0,1483.6 681.4,1486.2 680.5,1498.3 676.2,1493.0 667.6,1488.0 662.4,1481.0 657.2,1472.4 649.5,1469.0 650.3,1460.3 655.5,1453.4 659.0,1443.0 657.2,1434.5 653.5,1429.5 648.6,1432.8 640.3,1429.5 630.0,1433.4 619.6,1438.5 606.7,1437.2 601.5,1430.8 591.2,1423.0 583.4,1428.2 578.3,1421.7 570.5,1423.0 557.6,1416.5 544.6,1406.2 534.3,1395.9 521.4,1390.7 513.6,1380.3 514.7,1368.5 521.0,1358.6 519.6,1348.7 512.2,1338.8 504.8,1326.4 501.0,1316.5" fill="#2c2c2c" stroke="#2c2c2c" stroke-width="1" stroke-linejoin="round" transform="translate(690,1331.4166666666667) scale(1.0016666666666667) translate(-690,-1330)" />
<g fill="#3a3a3a"><path d="M737,1530 L742,1527 L750,1531.5 L760.5,1520 L760,1511.2 L737.5,1522.4 Z"/><path d="M829,1470 L826.5,1492 L834,1497.5 L845.5,1468 Z"/></g>
<polygon points="499.8,1304.0 504.8,1295.4 517.0,1293.0 534.5,1291.7 547.0,1286.7 554.3,1279.3 555.6,1267.0 561.8,1265.0 570.5,1267.0 575.4,1258.0 584.0,1253.3 594.0,1252.0 596.5,1247.0 605.0,1243.4 610.0,1247.0 615.0,1253.3 618.8,1264.4 621.3,1274.3 631.0,1280.5 641.0,1286.7 647.3,1294.2 649.8,1302.8 658.4,1305.3 673.3,1306.6 690.7,1309.0 704.9,1315.2 722.2,1309.0 739.6,1304.0 748.2,1297.9 749.0,1289.7 752.4,1287.0 764.5,1281.0 767.0,1277.6 781.7,1270.7 793.8,1268.0 790.3,1263.0 781.7,1259.5 768.8,1263.8 767.0,1266.4 771.4,1251.7 773.0,1247.4 781.7,1245.7 783.4,1234.5 785.2,1222.4 790.3,1217.2 799.0,1214.7 807.6,1215.5 816.2,1219.0 821.4,1225.9 826.6,1234.5 836.9,1241.4 847.2,1247.4 857.6,1250.0 866.2,1246.6 873.0,1240.5 875.7,1246.6 875.7,1257.0 871.4,1269.0 869.7,1275.9 870.5,1284.5 868.0,1291.4 863.6,1294.0 862.8,1300.0 857.6,1303.4 850.7,1308.6 847.2,1313.8 840.3,1319.0 833.4,1322.4 826.6,1327.6 821.4,1332.8 819.7,1327.6 819.7,1320.7 816.2,1318.0 812.8,1320.7 809.3,1327.6 802.4,1332.8 795.5,1336.2 797.5,1341.5 801.5,1346.2 808.0,1346.5 814.5,1343.8 826.6,1347.0 824.8,1352.4 816.0,1361.0 811.0,1368.0 816.0,1375.0 823.0,1383.4 830.0,1392.0 833.4,1400.7 831.7,1407.6 835.0,1416.0 833.4,1426.6 831.7,1433.4 826.6,1443.8 824.8,1452.4 819.7,1462.8 812.8,1471.4 804.0,1480.0 800.0,1477.6 791.7,1482.8 781.4,1484.5 771.0,1489.7 760.7,1494.0 753.8,1498.3 750.3,1503.4 747.8,1500.0 745.2,1494.8 738.3,1494.0 729.7,1491.4 722.8,1488.0 717.6,1481.0 712.4,1477.6 703.8,1481.0 697.0,1484.5 690.0,1483.6 681.4,1486.2 680.5,1498.3 676.2,1493.0 667.6,1488.0 662.4,1481.0 657.2,1472.4 649.5,1469.0 650.3,1460.3 655.5,1453.4 659.0,1443.0 657.2,1434.5 653.5,1429.5 648.6,1432.8 640.3,1429.5 630.0,1433.4 619.6,1438.5 606.7,1437.2 601.5,1430.8 591.2,1423.0 583.4,1428.2 578.3,1421.7 570.5,1423.0 557.6,1416.5 544.6,1406.2 534.3,1395.9 521.4,1390.7 513.6,1380.3 514.7,1368.5 521.0,1358.6 519.6,1348.7 512.2,1338.8 504.8,1326.4 501.0,1316.5" fill="url(#mg)" stroke="#cfcfcf" stroke-width="1" stroke-linejoin="round"/>
<polygon points="499.8,1304.0 504.8,1295.4 517.0,1293.0 534.5,1291.7 547.0,1286.7 554.3,1279.3 555.6,1267.0 561.8,1265.0 570.5,1267.0 575.4,1258.0 584.0,1253.3 594.0,1252.0 596.5,1247.0 605.0,1243.4 610.0,1247.0 615.0,1253.3 618.8,1264.4 621.3,1274.3 631.0,1280.5 641.0,1286.7 647.3,1294.2 649.8,1302.8 658.4,1305.3 673.3,1306.6 690.7,1309.0 704.9,1315.2 722.2,1309.0 739.6,1304.0 748.2,1297.9 749.0,1289.7 752.4,1287.0 764.5,1281.0 767.0,1277.6 781.7,1270.7 793.8,1268.0 790.3,1263.0 781.7,1259.5 768.8,1263.8 767.0,1266.4 771.4,1251.7 773.0,1247.4 781.7,1245.7 783.4,1234.5 785.2,1222.4 790.3,1217.2 799.0,1214.7 807.6,1215.5 816.2,1219.0 821.4,1225.9 826.6,1234.5 836.9,1241.4 847.2,1247.4 857.6,1250.0 866.2,1246.6 873.0,1240.5 875.7,1246.6 875.7,1257.0 871.4,1269.0 869.7,1275.9 870.5,1284.5 868.0,1291.4 863.6,1294.0 862.8,1300.0 857.6,1303.4 850.7,1308.6 847.2,1313.8 840.3,1319.0 833.4,1322.4 826.6,1327.6 821.4,1332.8 819.7,1327.6 819.7,1320.7 816.2,1318.0 812.8,1320.7 809.3,1327.6 802.4,1332.8 795.5,1336.2 797.5,1341.5 801.5,1346.2 808.0,1346.5 814.5,1343.8 826.6,1347.0 824.8,1352.4 816.0,1361.0 811.0,1368.0 816.0,1375.0 823.0,1383.4 830.0,1392.0 833.4,1400.7 831.7,1407.6 835.0,1416.0 833.4,1426.6 831.7,1433.4 826.6,1443.8 824.8,1452.4 819.7,1462.8 812.8,1471.4 804.0,1480.0 800.0,1477.6 791.7,1482.8 781.4,1484.5 771.0,1489.7 760.7,1494.0 753.8,1498.3 750.3,1503.4 747.8,1500.0 745.2,1494.8 738.3,1494.0 729.7,1491.4 722.8,1488.0 717.6,1481.0 712.4,1477.6 703.8,1481.0 697.0,1484.5 690.0,1483.6 681.4,1486.2 680.5,1498.3 676.2,1493.0 667.6,1488.0 662.4,1481.0 657.2,1472.4 649.5,1469.0 650.3,1460.3 655.5,1453.4 659.0,1443.0 657.2,1434.5 653.5,1429.5 648.6,1432.8 640.3,1429.5 630.0,1433.4 619.6,1438.5 606.7,1437.2 601.5,1430.8 591.2,1423.0 583.4,1428.2 578.3,1421.7 570.5,1423.0 557.6,1416.5 544.6,1406.2 534.3,1395.9 521.4,1390.7 513.6,1380.3 514.7,1368.5 521.0,1358.6 519.6,1348.7 512.2,1338.8 504.8,1326.4 501.0,1316.5" fill="url(#mh)"/>
<g fill="#707070" stroke="#c8c8c8" stroke-width=".8" stroke-linejoin="round"><path d="M743,1518 L747,1511.5 L754,1508.8 L760,1510.8 L758,1517.5 L750.3,1523 L742.5,1526.5 L737.5,1522.6 Z"/><path d="M841.5,1458.5 L845,1464 L843,1476 L837,1488.5 L830.5,1490 L829.5,1477 L834.5,1464 Z"/></g>
<g stroke="#444" stroke-width="2.6" stroke-linecap="butt"><line x1="851" y1="1459" x2="859.3" y2="1449"/><line x1="859.3" y1="1457.6" x2="868" y2="1447"/><line x1="821.4" y1="1480" x2="828.3" y2="1469.7"/></g>
<g fill="none" stroke="#d2d2d2" stroke-width="1.3" stroke-linejoin="round" stroke-linecap="round" clip-path="url(#mc)" filter="url(#mb1)">
<polyline points="519.6,1348.7 529.6,1350.0 547.0,1346.2 561.8,1350.0 579.0,1348.7 591.5,1348.7 601.4,1354.9 608.9,1353.7 610.0,1338.8 606.4,1335.0 623.7,1328.9 628.7,1321.4 641.0,1314.0 649.8,1302.8"/>
<polyline points="601.4,1354.9 599.0,1368.5 604.0,1378.4 618.8,1385.9 633.7,1390.8 641.0,1398.3 648.5,1393.3 653.5,1383.4"/>
<polyline points="606.4,1335.0 623.7,1328.9 638.6,1331.4 653.5,1336.3 670.8,1341.3 685.7,1351.2 693.0,1363.6 690.7,1373.5 683.2,1378.4 678.3,1383.4 665.9,1388.3 653.5,1383.4"/>
<polyline points="658.4,1305.3 661.0,1316.5 673.3,1321.4 678.3,1331.4 685.7,1338.8 698.0,1336.3 710.0,1348.7"/>
<polyline points="653.5,1393.3 658.4,1405.7 663.4,1418.0 661.7,1426.6 658.4,1437.2"/>
<polyline points="690.0,1333.8 697.4,1341.3 704.9,1348.7 717.3,1348.7 727.2,1351.2 739.6,1338.8 749.5,1331.4 764.3,1323.9 766.8,1314.0 776.7,1309.0 789.1,1306.6 799.0,1311.5 806.5,1304.0 813.9,1299.1 823.8,1294.2 816.4,1284.3 809.0,1274.3 813.9,1266.9 818.9,1249.6 816.4,1237.2 818.9,1224.8 813.9,1216.0"/>
<polyline points="813.9,1266.9 823.8,1274.3 838.7,1276.8 853.6,1281.8 868.4,1271.9"/>
<polyline points="823.8,1294.2 833.7,1296.6 843.6,1301.6 853.6,1309.0"/>
<polyline points="749.5,1331.4 747.0,1348.7 748.2,1361.0 749.5,1373.5 744.5,1388.3"/>
<polyline points="764.3,1323.9 766.8,1338.8 769.3,1353.7 771.8,1361.0 764.3,1368.5 749.5,1373.5"/>
<polyline points="771.8,1361.0 781.7,1363.6 784.2,1353.7 796.6,1346.2"/>
<polyline points="781.7,1363.6 789.1,1373.5 801.5,1378.4 809.0,1373.5"/>
<polyline points="744.5,1388.3 759.4,1393.3 774.3,1398.3 784.2,1388.3 789.1,1373.5"/>
<polyline points="717.3,1348.7 719.7,1363.6 717.3,1373.5 714.8,1388.3 727.2,1398.3 742.0,1395.8 744.5,1388.3"/>
<polyline points="690.7,1373.5 702.4,1385.9 714.8,1388.3"/>
<polyline points="661.7,1426.6 674.0,1442.0 686.6,1451.4 695.9,1435.9 708.3,1439.0 714.5,1423.5 730.0,1426.6 742.4,1414.0 745.5,1398.6 727.0,1401.7 714.5,1411.0 711.4,1398.6 723.8,1392.4 727.2,1398.3"/>
<polyline points="695.9,1435.9 702.0,1454.5 711.4,1467.0 717.6,1473.0 711.4,1482.4"/>
<polyline points="711.4,1467.0 730.0,1457.6 745.5,1454.5 742.4,1435.9 745.5,1420.3 742.4,1414.0"/>
<polyline points="745.5,1454.5 758.0,1467.0 754.8,1482.4 751.7,1498.0"/>
<polyline points="745.5,1420.3 764.0,1417.2 776.6,1426.6 779.7,1442.0 782.8,1457.6 770.4,1463.8 758.0,1467.0"/>
<polyline points="782.8,1457.6 798.3,1463.8 801.4,1448.3 807.6,1432.8 813.8,1420.3 804.5,1414.0 789.0,1417.2 776.6,1426.6"/>
<polyline points="798.3,1463.8 809.0,1473.0"/>
<polyline points="807.6,1432.8 820.0,1439.0 826.2,1445.2"/>
<polyline points="745.5,1398.6 761.0,1395.5 776.6,1404.8 789.0,1417.2"/>
<polyline points="789.0,1417.2 795.2,1404.8 789.0,1392.4 801.4,1389.3 813.8,1395.5 813.8,1420.3"/>
<polyline points="801.4,1389.3 801.5,1378.4"/>
</g>
<ellipse cx="806.5" cy="1341" rx="5" ry="8.5" fill="#ececec" opacity=".9" transform="rotate(22 806.5 1341)" filter="url(#mb1)"/>
<g fill="#fff" font-size="7.5" font-weight="700" text-anchor="middle" style="font-family:'Liberation Serif','Noto Serif CJK SC',serif">
<text x="554" y="1312">新</text>
<text x="613" y="1312">疆</text>
<text x="652" y="1329">甘肃</text>
<text x="631" y="1365">青</text>
<text x="672" y="1365">海</text>
<text x="567" y="1383">西</text>
<text x="601" y="1408">藏</text>
<text x="683" y="1414">四</text>
<text x="707" y="1414">川</text>
<text x="720" y="1328">内</text>
<text x="755" y="1310">蒙</text>
<text x="790" y="1287">古</text>
<text x="832" y="1259">黑</text>
<text x="851" y="1259">龙</text>
<text x="868" y="1259">江</text>
<text x="838" y="1288">吉林</text>
<text x="825" y="1309">辽宁</text>
<text x="790" y="1323">北京</text>
<text x="780" y="1338">河北</text>
<text x="797" y="1356">山东</text>
<text x="758" y="1349">山西</text>
<text x="716" y="1356">宁夏</text>
<text x="737" y="1383">陕西</text>
<text x="770" y="1382">河南</text>
<text x="812" y="1383">江苏</text>
<text x="802" y="1399">安徽</text>
<text x="757" y="1407">湖</text>
<text x="776" y="1407">北</text>
<text x="727" y="1415">重庆</text>
<text x="755" y="1438">湖</text>
<text x="772" y="1438">南</text>
<text x="793" y="1434">江西</text>
<text x="822" y="1432">浙江</text>
<text x="816" y="1448">福建</text>
<text x="725" y="1446">贵州</text>
<text x="672" y="1464">云</text>
<text x="697" y="1464">南</text>
<text x="732" y="1473">广</text>
<text x="752" y="1473">西</text>
<text x="784" y="1476">广东</text>
<text x="842" y="1472">台湾</text>
</g>
<g fill="none" stroke="#8a8a8a" stroke-width="1"><rect x="869.5" y="1459.5" width="55" height="76" fill="#fff"/><path d="M869.5,1467 C874,1469 878,1470 882,1468 C887,1466 890,1470 896,1466 C902,1463 906,1466 910,1461 L913,1459.5" stroke-width=".9"/><ellipse cx="885" cy="1476" rx="3.6" ry="4.2" stroke-width=".9"/><rect x="895.5" y="1528.5" width="27" height="6.5" stroke-width=".7"/></g>
<g fill="#9a9a9a"><circle cx="893" cy="1483" r=".7"/><circle cx="901" cy="1484" r=".7"/><circle cx="911" cy="1487" r=".7"/><circle cx="900" cy="1501" r=".7"/><circle cx="902" cy="1506" r=".7"/><circle cx="913" cy="1502" r=".7"/><circle cx="905" cy="1510" r=".7"/><circle cx="898" cy="1513" r=".7"/><circle cx="890" cy="1514" r=".7"/><circle cx="883" cy="1514" r=".7"/><circle cx="892" cy="1525" r=".7"/><circle cx="906" cy="1467" r=".7"/></g>
<text x="909" y="1534" font-size="4.6" fill="#777" text-anchor="middle" textLength="24" lengthAdjust="spacingAndGlyphs">南海诸岛</text>
</svg>
</div>
</body>
</html>
